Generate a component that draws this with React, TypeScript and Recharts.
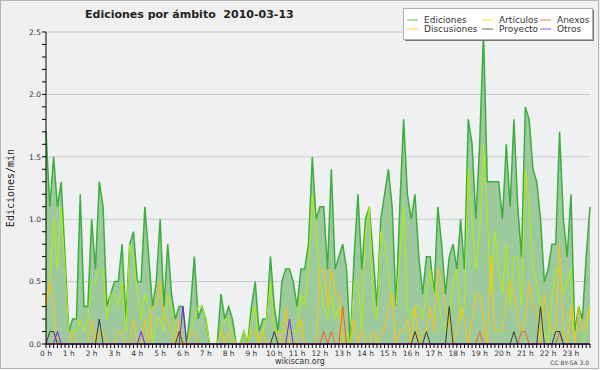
import { ComposedChart, Area, Line, XAxis, YAxis, CartesianGrid } from 'recharts';

// 10-minute buckets, 0 h .. 23 h 50 (edits per minute)
const ediciones = [
  1.7, 1.1, 1.5, 1.1, 1.3, 0.7, 0.1, 0.2, 0.2, 1.2, 0.3, 0.3,
  1.0, 0.6, 1.3, 1.1, 0.3, 0.4, 0.5, 0.5, 0.8, 0.2, 0.8, 0.9,
  0.5, 0.5, 1.1, 0.7, 0.3, 0.5, 1.0, 0.3, 0.8, 0.4, 0.2, 0.3,
  0.3, 0.0, 0.3, 0.7, 0.2, 0.3, 0.2, 0.0, 0.0, 0.0, 0.4, 0.2,
  0.3, 0.2, 0.0, 0.0, 0.1, 0.0, 0.3, 0.5, 0.1, 0.2, 0.2, 0.7,
  0.3, 0.1, 0.5, 0.6, 0.6, 0.5, 0.3, 0.6, 0.6, 0.8, 1.5, 1.0,
  1.1, 1.1, 0.6, 1.4, 0.6, 0.7, 0.8, 0.6, 0.0, 0.7, 1.2, 0.6,
  1.0, 1.1, 0.7, 0.3, 1.0, 1.2, 1.4, 1.1, 0.3, 1.1, 1.8, 1.2,
  1.0, 1.2, 0.7, 0.4, 0.7, 0.7, 0.4, 1.1, 0.8, 0.4, 0.7, 0.8,
  0.6, 1.0, 0.6, 1.8, 1.6, 1.0, 1.6, 2.5, 1.3, 1.3, 1.3, 1.3,
  1.0, 1.6, 1.1, 1.8, 1.1, 0.7, 1.9, 1.8, 1.4, 1.3, 1.0, 0.5,
  0.6, 0.8, 0.8, 1.7, 1.0, 0.7, 1.2, 0.1, 0.3, 0.2, 0.7, 1.1,
];

const articulos = [
  0.3, 0.5, 1.0, 0.6, 1.1, 0.6, 0.1, 0.1, 0.1, 0.2, 0.1, 0.2,
  0.5, 0.5, 0.6, 0.6, 0.2, 0.4, 0.4, 0.3, 0.5, 0.1, 0.8, 0.7,
  0.4, 0.2, 0.4, 0.3, 0.0, 0.2, 0.2, 0.1, 0.4, 0.3, 0.1, 0.0,
  0.0, 0.0, 0.1, 0.2, 0.3, 0.3, 0.2, 0.0, 0.0, 0.0, 0.1, 0.2,
  0.2, 0.1, 0.0, 0.0, 0.1, 0.0, 0.2, 0.3, 0.0, 0.1, 0.2, 0.5,
  0.1, 0.1, 0.1, 0.1, 0.1, 0.1, 0.1, 0.4, 0.3, 0.6, 1.2, 0.9,
  0.5, 0.3, 0.2, 0.4, 0.2, 0.3, 0.0, 0.1, 0.0, 0.5, 0.5, 0.1,
  0.9, 1.1, 0.3, 0.2, 0.9, 0.8, 0.6, 0.3, 0.3, 0.7, 1.1, 0.3,
  0.2, 0.3, 0.3, 0.2, 0.4, 0.6, 0.4, 0.4, 0.2, 0.1, 0.2, 0.5,
  0.6, 0.2, 0.3, 1.4, 1.0, 0.6, 0.9, 1.6, 1.0, 0.4, 0.9, 0.6,
  0.4, 0.8, 0.3, 0.7, 0.7, 0.3, 1.4, 1.1, 0.6, 0.5, 0.3, 0.1,
  0.0, 0.4, 0.6, 0.6, 0.4, 0.5, 0.6, 0.0, 0.0, 0.0, 0.1, 0.3,
];

const discusiones = [
  0.3, 0.5, 0.3, 0, 0, 0, 0, 0.1, 0, 0, 0, 0,
  0.2, 0, 0.1, 0.1, 0, 0, 0, 0.1, 0.1, 0, 0, 0.2,
  0, 0, 0.2, 0, 0.3, 0.3, 0.5, 0.2, 0.2, 0.1, 0, 0.2,
  0, 0, 0.1, 0.1, 0, 0, 0, 0, 0, 0, 0.1, 0,
  0.1, 0, 0, 0, 0, 0, 0.1, 0.1, 0, 0.1, 0, 0,
  0.1, 0.1, 0, 0.3, 0, 0, 0, 0.2, 0, 0, 0, 0,
  0.6, 0.6, 0.3, 0.6, 0.4, 0.4, 0, 0, 0, 0.2, 0, 0.1,
  0, 0, 0.1, 0, 0.1, 0.1, 0.3, 0.4, 0, 0.1, 0.1, 0.2,
  0, 0.3, 0, 0.1, 0.1, 0.3, 0.1, 0.6, 0.5, 0.3, 0.2, 0,
  0.1, 0.3, 0.2, 0, 0.2, 0.4, 0.4, 0.2, 0, 0.7, 0.1, 0.1,
  0.1, 0.4, 0.5, 0.4, 0.2, 0.1, 0.2, 0.5, 0.3, 0.3, 0, 0.4,
  0.2, 0.1, 0.1, 0.8, 0.1, 0, 0.3, 0, 0.3, 0.1, 0.2, 0.3,
];

const anexos = [
  0, 0, 0, 0, 0, 0, 0, 0, 0, 0, 0, 0,
  0, 0, 0, 0, 0, 0, 0, 0, 0, 0, 0, 0,
  0, 0, 0, 0, 0, 0, 0, 0, 0, 0, 0, 0,
  0, 0, 0, 0, 0, 0, 0, 0, 0, 0, 0, 0,
  0, 0, 0, 0, 0, 0, 0, 0, 0, 0, 0, 0,
  0, 0, 0, 0, 0, 0, 0, 0, 0, 0, 0, 0,
  0, 0.1, 0, 0.1, 0, 0, 0.3, 0, 0, 0, 0, 0,
  0, 0, 0, 0, 0, 0, 0, 0, 0, 0, 0, 0,
  0, 0, 0, 0, 0, 0, 0, 0, 0, 0, 0, 0,
  0, 0, 0, 0, 0, 0, 0.1, 0, 0, 0, 0, 0,
  0, 0, 0, 0, 0, 0.1, 0.1, 0, 0, 0, 0, 0,
  0, 0, 0, 0.1, 0, 0, 0, 0, 0, 0, 0, 0,
];

const proyecto = [
  0, 0.1, 0.1, 0, 0, 0, 0, 0, 0, 0, 0, 0,
  0, 0, 0.2, 0, 0, 0, 0, 0, 0, 0, 0, 0,
  0, 0, 0, 0, 0, 0, 0, 0, 0, 0, 0, 0.1,
  0, 0, 0, 0, 0, 0, 0, 0, 0, 0, 0, 0,
  0, 0, 0, 0, 0, 0, 0, 0, 0, 0, 0, 0,
  0.1, 0, 0, 0, 0, 0, 0, 0, 0, 0, 0, 0,
  0, 0, 0, 0, 0, 0, 0, 0, 0, 0, 0, 0,
  0, 0, 0, 0, 0, 0, 0, 0, 0, 0, 0, 0,
  0, 0.1, 0, 0, 0.1, 0, 0, 0, 0, 0, 0.3, 0,
  0, 0, 0, 0, 0, 0, 0, 0, 0, 0, 0, 0,
  0, 0, 0, 0.1, 0, 0, 0, 0, 0, 0, 0.3, 0,
  0, 0, 0.1, 0.1, 0, 0, 0, 0, 0, 0, 0, 0,
];

const otros = [
  0, 0, 0, 0.1, 0, 0, 0, 0, 0, 0, 0, 0,
  0, 0, 0, 0, 0, 0, 0, 0, 0, 0, 0, 0,
  0, 0.1, 0, 0, 0, 0, 0, 0, 0, 0, 0, 0,
  0.3, 0, 0, 0, 0, 0, 0, 0, 0, 0, 0, 0,
  0, 0, 0, 0, 0, 0, 0, 0, 0, 0, 0, 0,
  0, 0, 0, 0, 0.2, 0, 0, 0, 0, 0, 0, 0,
  0, 0, 0, 0, 0, 0, 0, 0, 0, 0, 0, 0,
  0, 0, 0, 0, 0, 0, 0, 0, 0, 0, 0, 0,
  0, 0, 0, 0, 0, 0, 0, 0, 0, 0, 0, 0,
  0, 0, 0, 0, 0, 0, 0, 0, 0, 0, 0, 0,
  0, 0, 0, 0, 0, 0, 0, 0, 0, 0, 0, 0,
  0, 0, 0, 0, 0, 0, 0, 0, 0, 0, 0, 0,
];

const hourLabels = [
  '0 h', '1 h', '2 h', '3 h', '4 h', '5 h', '6 h', '7 h', '8 h', '9 h', '10 h', '11 h',
  '12 h', '13 h', '14 h', '15 h', '16 h', '17 h', '18 h', '19 h', '20 h', '21 h', '22 h', '23 h',
];
const yLabels = ['0.0', '0.5', '1.0', '1.5', '2.0', '2.5'];

const data = ediciones.map((v, i) => ({
  i,
  ediciones: v,
  articulos: articulos[i],
  discusiones: discusiones[i],
  anexos: anexos[i],
  proyecto: proyecto[i],
  otros: otros[i],
}));

const xTicks = data.map(d => d.i);
const yTicks = Array.from({ length: 26 }, (_, k) => k / 10);
const gridValues = [0.5, 1, 1.5, 2, 2.5];

const SERIES = [
  { key: 'articulos', label: 'Artículos', color: '#B2EE0A' },
  { key: 'discusiones', label: 'Discusiones', color: '#FFC20E' },
  { key: 'anexos', label: 'Anexos', color: '#FF5C1A' },
  { key: 'proyecto', label: 'Proyecto', color: '#3A3A3A' },
  { key: 'otros', label: 'Otros', color: '#7B1FF0' },
];

const LEGEND = [
  { label: 'Ediciones', color: '#66C466', x: 407, y: 20 },
  { label: 'Artículos', color: '#C8F53C', x: 482, y: 20 },
  { label: 'Anexos', color: '#FF7F40', x: 540, y: 20 },
  { label: 'Discusiones', color: '#FFCC33', x: 407, y: 29 },
  { label: 'Proyecto', color: '#666666', x: 482, y: 29 },
  { label: 'Otros', color: '#A050F0', x: 540, y: 29 },
];

const FONT = 'DejaVu Sans, sans-serif';

const XTick = ({ x, y, payload }: any) => {
  const v = payload.value;
  return (
    <g>
      <line x1={x} x2={x} y1={y} y2={y + 4} stroke="#000" />
      {v % 6 === 0 && (
        <text x={x} y={y + 12} textAnchor="middle" fontSize={7.5} fontFamily={FONT} fill="#333">
          {hourLabels[v / 6]}
        </text>
      )}
    </g>
  );
};

const YTick = ({ x, y, payload }: any) => {
  const k = Math.round(payload.value * 10);
  return (
    <g>
      <line x1={x - 4} x2={x} y1={y} y2={y} stroke="#000" />
      {k % 5 === 0 && (
        <text x={x - 5} y={y + 2.7} textAnchor="end" fontSize={7.5} fontFamily={FONT} fill="#333">
          {yLabels[k / 5]}
        </text>
      )}
    </g>
  );
};

export default function App() {
  return (
    <div style={{ position: 'absolute', left: 0, top: 0, width: 600, height: 370, background: '#F0F0F0' }}>
      <ComposedChart width={600} height={370} data={data} margin={{ top: 32, right: 10, bottom: 0, left: 6 }}>
        <CartesianGrid vertical={false} horizontalValues={gridValues} stroke="#CACACA" fill="#EEF0F2" />
        <XAxis dataKey="i" type="number" domain={[0, 143]} ticks={xTicks} interval={0} height={26}
          tick={<XTick />} tickLine={false} tickSize={0} tickMargin={0} axisLine={{ stroke: '#000' }} />
        <YAxis type="number" domain={[0, 2.5]} ticks={yTicks} interval={0} width={40}
          tick={<YTick />} tickLine={false} tickSize={0} tickMargin={0} axisLine={{ stroke: '#000' }} />
        <Area type="linear" dataKey="ediciones" stroke="#3DAD3D" strokeWidth={1.5} fill="#9DCA9D" fillOpacity={1}
          isAnimationActive={false} dot={false} activeDot={false} />
        {SERIES.map(s => (
          <Line key={s.key} type="linear" dataKey={s.key} stroke={s.color} strokeWidth={1}
            dot={false} activeDot={false} isAnimationActive={false} />
        ))}
      </ComposedChart>
      <svg width={600} height={370} style={{ position: 'absolute', left: 0, top: 0, pointerEvents: 'none' }}>
        <rect x={0.5} y={0.5} width={598} height={368} fill="none" stroke="#B4B4B4" />
        <text x={85} y={18} fontSize={11} fontWeight="bold" fontFamily={FONT} fill="#222" style={{ whiteSpace: 'pre' }}>
          {'Ediciones por ámbito  2010-03-13'}
        </text>
        <text transform="translate(14,188) rotate(-90)" textAnchor="middle" fontSize={10}
          fontFamily="DejaVu Sans Mono, monospace" fill="#222">
          Ediciones/min
        </text>
        <text x={300} y={364} textAnchor="middle" fontSize={8} fontFamily={FONT} fill="#333">wikiscan.org</text>
        <text x={589} y={365} textAnchor="end" fontSize={6} fontFamily={FONT} fill="#444">CC BY-SA 3.0</text>
        <rect x={405} y={10} width={189} height={31} fill="#777" />
        <rect x={403.5} y={8.5} width={189} height={31} fill="#fff" stroke="#B0B0B0" />
        {LEGEND.map(l => (
          <g key={l.label}>
            <line x1={l.x} x2={l.x + 11} y1={l.y} y2={l.y} stroke={l.color} />
            <text x={l.x + 17} y={l.y + 3.3} fontSize={9} fontFamily={FONT} fill="#333">{l.label}</text>
          </g>
        ))}
      </svg>
    </div>
  );
}
